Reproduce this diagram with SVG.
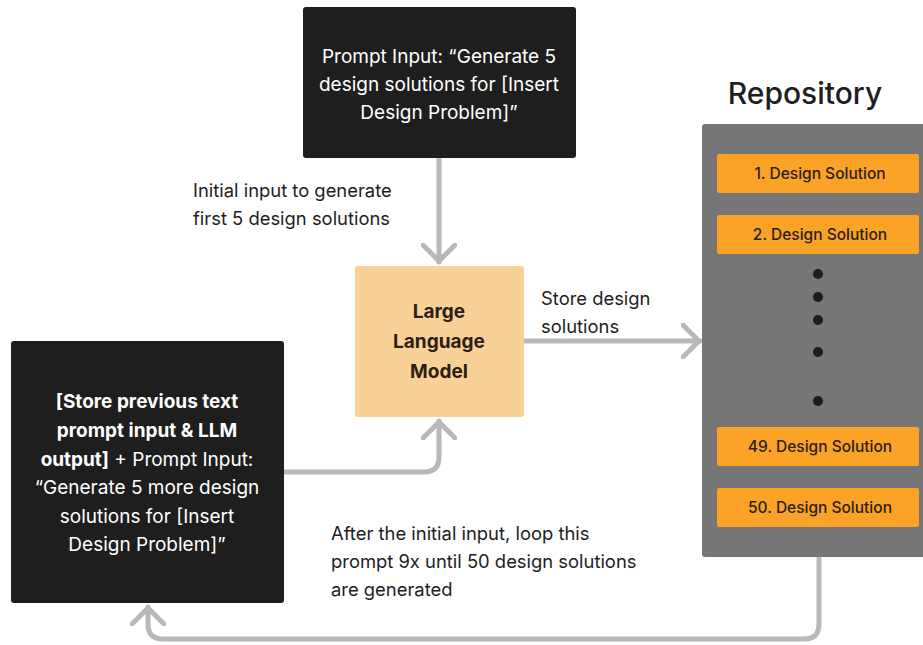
<svg xmlns="http://www.w3.org/2000/svg" width="923" height="645" viewBox="0 0 923 645">
<defs>
<style>
.t{font-family:Inter,"Liberation Sans",sans-serif;}
.w{fill:#ffffff;font-size:19px;text-anchor:middle;}
.lbl{fill:#1e1e1e;font-size:18.4px;}
.b{font-weight:700;}
.item{fill:#FBA327;}
.itxt{fill:#2a1e10;font-size:15.5px;font-weight:500;text-anchor:middle;}
.con{fill:none;stroke:#B8B8B8;stroke-width:5;stroke-linecap:round;stroke-linejoin:round;}
</style>
<marker id="ah" viewBox="0 0 20 36" refX="19" refY="18" markerWidth="20" markerHeight="36" markerUnits="userSpaceOnUse" orient="auto">
<path d="M2 2 L18 18 L2 34" fill="none" stroke="#B8B8B8" stroke-width="5" stroke-linecap="round" stroke-linejoin="round"/>
</marker>
</defs>
<rect width="923" height="645" fill="#ffffff"/>

<g id="connectors">
<path class="con" d="M439 159 V262" marker-end="url(#ah)"/>
<path class="con" d="M525 341 H700" marker-end="url(#ah)"/>
<path class="con" d="M285 472 H424 Q439 472 439 457 V421" marker-end="url(#ah)"/>
<path class="con" d="M819 558 V624 Q819 639 804 639 H163 Q148 639 148 624 V607" marker-end="url(#ah)"/>
</g>

<g id="prompt-input">
<rect x="303" y="7" width="273" height="151" rx="3" fill="#1E1E1E"/>
<text class="t w" x="439" y="63">Prompt Input: “Generate 5</text>
<text class="t w" x="439" y="91">design solutions for [Insert</text>
<text class="t w" x="439" y="119">Design Problem]”</text>
</g>

<g id="llm">
<rect x="355" y="266" width="169" height="151" rx="3" fill="#F9D198"/>
<text class="t b" x="439" y="318" fill="#2a2016" font-size="19" text-anchor="middle">Large</text>
<text class="t b" x="439" y="348" fill="#2a2016" font-size="19" text-anchor="middle">Language</text>
<text class="t b" x="439" y="378" fill="#2a2016" font-size="19" text-anchor="middle">Model</text>
</g>

<g id="loop-prompt">
<rect x="11" y="341" width="273" height="262" rx="3" fill="#1E1E1E"/>
<text class="t w b" x="147" y="408">[Store previous text</text>
<text class="t w b" x="147" y="437">prompt input &amp; LLM</text>
<text class="t w" x="147" y="466"><tspan font-weight="700">output]</tspan> + Prompt Input:</text>
<text class="t w" x="147" y="494">“Generate 5 more design</text>
<text class="t w" x="147" y="523">solutions for [Insert</text>
<text class="t w" x="147" y="551">Design Problem]”</text>
</g>

<g id="repository">
<text class="t" x="805" y="104" fill="#1e1e1e" font-size="30" font-weight="500" text-anchor="middle">Repository</text>
<rect x="702" y="124" width="230" height="433" rx="3" fill="#767676"/>
<rect class="item" x="717" y="154" width="202" height="39" rx="2"/>
<text class="t itxt" x="820" y="179">1. Design Solution</text>
<rect class="item" x="717" y="215" width="202" height="39" rx="2"/>
<text class="t itxt" x="820" y="240">2. Design Solution</text>
<g fill="#1e1e1e">
<circle cx="818" cy="274" r="5"/>
<circle cx="818" cy="297" r="5"/>
<circle cx="818" cy="320" r="5"/>
<circle cx="818" cy="352" r="5"/>
<circle cx="818" cy="401" r="5"/>
</g>
<rect class="item" x="717" y="427" width="202" height="39" rx="2"/>
<text class="t itxt" x="820" y="452">49. Design Solution</text>
<rect class="item" x="717" y="488" width="202" height="39" rx="2"/>
<text class="t itxt" x="820" y="513">50. Design Solution</text>
</g>

<g id="labels">
<text class="t lbl" x="193" y="197">Initial input to generate</text>
<text class="t lbl" x="193" y="225">first 5 design solutions</text>
<text class="t lbl" x="541" y="305">Store design</text>
<text class="t lbl" x="541" y="333">solutions</text>
<text class="t lbl" x="331" y="540">After the initial input, loop this</text>
<text class="t lbl" x="331" y="568">prompt 9x until 50 design solutions</text>
<text class="t lbl" x="331" y="596">are generated</text>
</g>
</svg>
